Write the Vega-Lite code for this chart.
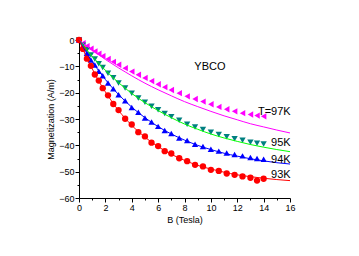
{
  "$schema": "https://vega.github.io/schema/vega-lite/v6.json",
  "width": 211,
  "height": 158,
  "autosize": {"type": "none"},
  "padding": {"left": 79, "top": 40, "right": 69, "bottom": 58},
  "background": "white",
  "config": {
    "view": {"stroke": null},
    "axis": {"domainColor": "black", "tickColor": "black", "labelColor": "black", "titleColor": "black", "labelFont": "Liberation Sans", "titleFont": "Liberation Sans", "labelFontSize": 9, "titleFontSize": 9, "titleFontWeight": "normal", "grid": false}
  },
  "datasets": {
    "pts": [
      {"T":"97K","B":0,"M":0},{"T":"97K","B":0.3,"M":-1.2},{"T":"97K","B":0.6,"M":-2.3},{"T":"97K","B":0.9,"M":-3.3},{"T":"97K","B":1.2,"M":-4.3},{"T":"97K","B":1.5,"M":-5.2},{"T":"97K","B":1.8,"M":-6.1},{"T":"97K","B":2.2,"M":-7.2},{"T":"97K","B":2.6,"M":-8.3},{"T":"97K","B":3.0,"M":-9.4},{"T":"97K","B":3.5,"M":-10.7},{"T":"97K","B":4.0,"M":-12.0},{"T":"97K","B":4.5,"M":-13.2},{"T":"97K","B":5.0,"M":-14.4},{"T":"97K","B":5.5,"M":-15.6},{"T":"97K","B":6.0,"M":-16.8},{"T":"97K","B":6.5,"M":-17.9},{"T":"97K","B":7.0,"M":-19.0},{"T":"97K","B":7.6,"M":-20.2},{"T":"97K","B":8.2,"M":-21.4},{"T":"97K","B":8.8,"M":-22.4},{"T":"97K","B":9.4,"M":-23.4},{"T":"97K","B":10.0,"M":-24.4},{"T":"97K","B":10.6,"M":-25.4},{"T":"97K","B":11.2,"M":-26.3},{"T":"97K","B":11.8,"M":-27.1},{"T":"97K","B":12.4,"M":-27.8},{"T":"97K","B":13.0,"M":-28.3},{"T":"97K","B":13.5,"M":-28.7},{"T":"97K","B":14.0,"M":-29.0},
      {"T":"95K","B":0,"M":0},{"T":"95K","B":0.3,"M":-2.0},{"T":"95K","B":0.6,"M":-3.7},{"T":"95K","B":0.9,"M":-5.7},{"T":"95K","B":1.2,"M":-7.2},{"T":"95K","B":1.5,"M":-9.0},{"T":"95K","B":1.8,"M":-10.4},{"T":"95K","B":2.2,"M":-12.6},{"T":"95K","B":2.6,"M":-14.3},{"T":"95K","B":3.0,"M":-16.3},{"T":"95K","B":3.5,"M":-18.2},{"T":"95K","B":4.0,"M":-20.2},{"T":"95K","B":4.5,"M":-22.0},{"T":"95K","B":5.0,"M":-23.6},{"T":"95K","B":5.5,"M":-25.2},{"T":"95K","B":6.0,"M":-26.5},{"T":"95K","B":6.5,"M":-27.9},{"T":"95K","B":7.0,"M":-29.1},{"T":"95K","B":7.6,"M":-30.5},{"T":"95K","B":8.2,"M":-32.0},{"T":"95K","B":8.8,"M":-33.0},{"T":"95K","B":9.4,"M":-34.0},{"T":"95K","B":10.0,"M":-35.0},{"T":"95K","B":10.6,"M":-35.9},{"T":"95K","B":11.2,"M":-36.7},{"T":"95K","B":11.8,"M":-37.5},{"T":"95K","B":12.4,"M":-38.1},{"T":"95K","B":13.0,"M":-38.8},{"T":"95K","B":13.5,"M":-39.2},{"T":"95K","B":14.0,"M":-39.5},
      {"T":"94K","B":0,"M":0},{"T":"94K","B":0.3,"M":-2.7},{"T":"94K","B":0.6,"M":-5.0},{"T":"94K","B":0.9,"M":-7.6},{"T":"94K","B":1.2,"M":-9.5},{"T":"94K","B":1.5,"M":-11.9},{"T":"94K","B":1.8,"M":-13.6},{"T":"94K","B":2.2,"M":-16.3},{"T":"94K","B":2.6,"M":-18.5},{"T":"94K","B":3.0,"M":-20.8},{"T":"94K","B":3.5,"M":-23.1},{"T":"94K","B":4.0,"M":-25.6},{"T":"94K","B":4.5,"M":-27.4},{"T":"94K","B":5.0,"M":-29.6},{"T":"94K","B":5.5,"M":-31.1},{"T":"94K","B":6.0,"M":-32.8},{"T":"94K","B":6.5,"M":-34.4},{"T":"94K","B":7.0,"M":-35.5},{"T":"94K","B":7.6,"M":-37.2},{"T":"94K","B":8.2,"M":-38.2},{"T":"94K","B":8.8,"M":-39.6},{"T":"94K","B":9.4,"M":-40.4},{"T":"94K","B":10.0,"M":-41.5},{"T":"94K","B":10.6,"M":-42.2},{"T":"94K","B":11.2,"M":-42.9},{"T":"94K","B":11.8,"M":-43.5},{"T":"94K","B":12.4,"M":-44.0},{"T":"94K","B":13.0,"M":-44.6},{"T":"94K","B":13.5,"M":-45.0},{"T":"94K","B":14.0,"M":-45.3},
      {"T":"93K","B":0,"M":0},{"T":"93K","B":0.3,"M":-3.4},{"T":"93K","B":0.6,"M":-7.1},{"T":"93K","B":0.9,"M":-9.8},{"T":"93K","B":1.2,"M":-13.1},{"T":"93K","B":1.5,"M":-15.4},{"T":"93K","B":1.8,"M":-18.3},{"T":"93K","B":2.2,"M":-21.0},{"T":"93K","B":2.6,"M":-24.3},{"T":"93K","B":3.0,"M":-26.6},{"T":"93K","B":3.5,"M":-29.9},{"T":"93K","B":4.0,"M":-32.1},{"T":"93K","B":4.5,"M":-35.0},{"T":"93K","B":5.0,"M":-36.6},{"T":"93K","B":5.5,"M":-39.0},{"T":"93K","B":6.0,"M":-40.3},{"T":"93K","B":6.5,"M":-42.2},{"T":"93K","B":7.0,"M":-43.1},{"T":"93K","B":7.6,"M":-44.9},{"T":"93K","B":8.2,"M":-46.0},{"T":"93K","B":8.8,"M":-47.4},{"T":"93K","B":9.4,"M":-48.0},{"T":"93K","B":10.0,"M":-49.3},{"T":"93K","B":10.6,"M":-49.7},{"T":"93K","B":11.2,"M":-50.7},{"T":"93K","B":11.8,"M":-51.2},{"T":"93K","B":12.4,"M":-51.8},{"T":"93K","B":13.0,"M":-52.3},{"T":"93K","B":13.5,"M":-53.4},{"T":"93K","B":14.0,"M":-52.7}
    ],
    "fit": [
      {"T":"97K","B":0,"M":0},{"T":"97K","B":0.5,"M":-2.0},{"T":"97K","B":1,"M":-3.8},{"T":"97K","B":1.5,"M":-5.6},{"T":"97K","B":2,"M":-7.4},{"T":"97K","B":2.5,"M":-9.0},{"T":"97K","B":3,"M":-10.6},{"T":"97K","B":3.5,"M":-12.1},{"T":"97K","B":4,"M":-13.6},{"T":"97K","B":5,"M":-16.4},{"T":"97K","B":6,"M":-18.9},{"T":"97K","B":7,"M":-21.2},{"T":"97K","B":8,"M":-23.4},{"T":"97K","B":9,"M":-25.3},{"T":"97K","B":10,"M":-27.1},{"T":"97K","B":11,"M":-28.8},{"T":"97K","B":12,"M":-30.3},{"T":"97K","B":13,"M":-31.8},{"T":"97K","B":14,"M":-33.0},{"T":"97K","B":15,"M":-34.2},{"T":"97K","B":16,"M":-35.3},
      {"T":"95K","B":0,"M":0},{"T":"95K","B":0.5,"M":-3.2},{"T":"95K","B":1,"M":-6.2},{"T":"95K","B":1.5,"M":-8.9},{"T":"95K","B":2,"M":-11.5},{"T":"95K","B":2.5,"M":-13.9},{"T":"95K","B":3,"M":-16.2},{"T":"95K","B":3.5,"M":-18.3},{"T":"95K","B":4,"M":-20.3},{"T":"95K","B":5,"M":-23.8},{"T":"95K","B":6,"M":-26.8},{"T":"95K","B":7,"M":-29.5},{"T":"95K","B":8,"M":-31.9},{"T":"95K","B":9,"M":-33.9},{"T":"95K","B":10,"M":-35.7},{"T":"95K","B":11,"M":-37.2},{"T":"95K","B":12,"M":-38.5},{"T":"95K","B":13,"M":-39.7},{"T":"95K","B":14,"M":-40.7},{"T":"95K","B":15,"M":-41.6},{"T":"95K","B":16,"M":-42.4},
      {"T":"94K","B":0,"M":0},{"T":"94K","B":0.5,"M":-4.3},{"T":"94K","B":1,"M":-8.2},{"T":"94K","B":1.5,"M":-11.7},{"T":"94K","B":2,"M":-15.0},{"T":"94K","B":2.5,"M":-18.0},{"T":"94K","B":3,"M":-20.7},{"T":"94K","B":3.5,"M":-23.2},{"T":"94K","B":4,"M":-25.5},{"T":"94K","B":5,"M":-29.5},{"T":"94K","B":6,"M":-32.9},{"T":"94K","B":7,"M":-35.7},{"T":"94K","B":8,"M":-38.0},{"T":"94K","B":9,"M":-40.0},{"T":"94K","B":10,"M":-41.6},{"T":"94K","B":11,"M":-43.0},{"T":"94K","B":12,"M":-44.1},{"T":"94K","B":13,"M":-45.1},{"T":"94K","B":14,"M":-45.9},{"T":"94K","B":15,"M":-46.6},{"T":"94K","B":16,"M":-47.1},
      {"T":"93K","B":0,"M":0},{"T":"93K","B":0.5,"M":-5.8},{"T":"93K","B":1,"M":-10.9},{"T":"93K","B":1.5,"M":-15.6},{"T":"93K","B":2,"M":-19.7},{"T":"93K","B":2.5,"M":-23.4},{"T":"93K","B":3,"M":-26.8},{"T":"93K","B":3.5,"M":-29.7},{"T":"93K","B":4,"M":-32.4},{"T":"93K","B":5,"M":-36.9},{"T":"93K","B":6,"M":-40.5},{"T":"93K","B":7,"M":-43.4},{"T":"93K","B":8,"M":-45.7},{"T":"93K","B":9,"M":-47.6},{"T":"93K","B":10,"M":-49.0},{"T":"93K","B":11,"M":-50.2},{"T":"93K","B":12,"M":-51.2},{"T":"93K","B":13,"M":-51.9},{"T":"93K","B":14,"M":-52.5},{"T":"93K","B":15,"M":-53.0},{"T":"93K","B":16,"M":-53.4}
    ],
    "labels": [
      {"B":16.05,"M":-27.2,"txt":"T=97K"},
      {"B":16.05,"M":-39.1,"txt":"95K"},
      {"B":16.05,"M":-45.6,"txt":"94K"},
      {"B":16.05,"M":-51.3,"txt":"93K"}
    ],
    "title": [
      {"B":9.93,"M":-10.4,"txt":"YBCO"}
    ]
  },
  "encoding": {
    "x": {"field": "B", "type": "quantitative", "scale": {"domain": [0, 16], "nice": false, "zero": false},
      "axis": {"title": "B (Tesla)", "values": [0,1,2,3,4,5,6,7,8,9,10,11,12,13,14,15,16], "labelExpr": "datum.value % 2 === 0 ? datum.label : ''", "labelOverlap": false, "tickSize": {"condition": {"test": "datum.value % 2 === 0", "value": 4}, "value": 2}, "labelPadding": 1, "titlePadding": 3, "labelFlush": false}},
    "y": {"field": "M", "type": "quantitative", "scale": {"domain": [-60, 0], "nice": false, "zero": false},
      "axis": {"title": "Magnetization (A/m)", "values": [-60,-55,-50,-45,-40,-35,-30,-25,-20,-15,-10,-5,0], "labelExpr": "datum.value % 10 === 0 ? datum.label : ''", "labelOverlap": false, "tickSize": {"condition": {"test": "datum.value % 10 === 0", "value": 4}, "value": 2}, "labelPadding": 1, "titlePadding": 3, "labelFlush": false}}
  },
  "layer": [
    {
      "data": {"name": "pts"},
      "mark": {"type": "point", "filled": true, "size": 40, "opacity": 1},
      "encoding": {
        "shape": {"field": "T", "type": "nominal", "scale": {"domain": ["97K","95K","94K","93K"], "range": ["triangle-left","triangle-down","triangle-up","circle"]}, "legend": null},
        "color": {"field": "T", "type": "nominal", "scale": {"domain": ["97K","95K","94K","93K"], "range": ["#ff00ff","#008080","#0000ff","#ff0000"]}, "legend": null}
      }
    },
    {
      "data": {"name": "fit"},
      "mark": {"type": "line", "strokeWidth": 1, "interpolate": "monotone"},
      "encoding": {
        "detail": {"field": "T"},
        "stroke": {"field": "T", "type": "nominal", "scale": {"domain": ["97K","95K","94K","93K"], "range": ["#ff00ff","#00ff00","#0000ff","#ff0000"]}, "legend": null}
      }
    },
    {
      "data": {"name": "labels"},
      "mark": {"type": "text", "align": "right", "baseline": "middle", "font": "Liberation Sans", "fontSize": 11, "color": "black"},
      "encoding": {
        "text": {"field": "txt"}
      }
    },
    {
      "data": {"name": "title"},
      "mark": {"type": "text", "align": "center", "baseline": "middle", "font": "Liberation Sans", "fontSize": 11, "color": "black"},
      "encoding": {
        "text": {"field": "txt"}
      }
    }
  ],
  "resolve": {"scale": {"color": "independent", "stroke": "independent"}}
}
